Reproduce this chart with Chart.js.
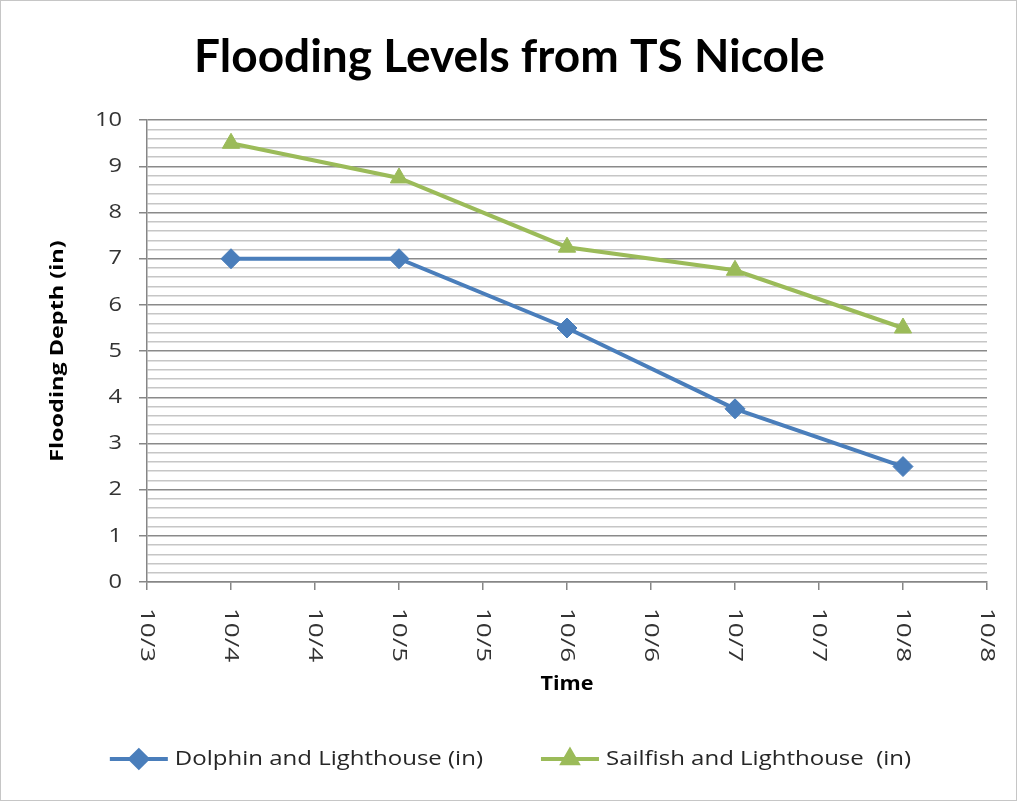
<!DOCTYPE html>
<html>
<head>
<meta charset="utf-8">
<title>Flooding Levels from TS Nicole</title>
<script src="https://cdn.jsdelivr.net/npm/chart.js@4.4.1/dist/chart.umd.min.js"></script>
<style>
  html, body { margin: 0; padding: 0; background: #fff; }
  #wrap { width: 1017px; height: 801px; position: relative; }
</style>
</head>
<body>
<div id="wrap"><canvas id="floodChart"></canvas></div>
<script>
// days in October (x), depths in inches (y)
const days = [4, 5, 6, 7, 8];
const dolphinDepth = [7, 7, 5.5, 3.75, 2.5];
const sailfishDepth = [9.5, 8.75, 7.25, 6.75, 5.5];
const seriesNames = ['Dolphin and Lighthouse (in)', 'Sailfish and Lighthouse  (in)'];
const xTickLabels = ['10/3', '10/4', '10/4', '10/5', '10/5', '10/6', '10/6', '10/7', '10/7', '10/8', '10/8'];
const yTickLabels = ['0', '1', '2', '3', '4', '5', '6', '7', '8', '9', '10'];
const xAxisTitle = 'Time';
const yAxisTitle = 'Flooding Depth (in)';

const TITLE_FONT = 'Lato, "DejaVu Sans", sans-serif';
const FONT = '"Open Sans", "DejaVu Sans", sans-serif';
const X_MIN = 3.5, X_MAX = 8.5, X_STEP = 0.5;
const TICK_LEN = 8;
const TEXT_COLOR = '#333333';

const isMajor = v => Math.abs(v - Math.round(v)) < 1e-6;

function toPoints(ys) {
  return days.map((d, i) => ({ x: d, y: ys[i] }));
}

// text widened along its baseline (the Calibri-ish look), optionally rotated
function wideText(ctx, text, x, y, font, stretch, align, angle) {
  ctx.save();
  ctx.translate(x, y);
  ctx.rotate(angle || 0);
  ctx.scale(stretch, 1);
  ctx.font = font;
  ctx.textAlign = align;
  ctx.textBaseline = 'middle';
  ctx.fillText(text, 0, 0);
  ctx.restore();
}

// axis labels, axis titles, legend with line samples, outer frame
const excelLook = {
  id: 'excelLook',
  beforeDraw(chart) {
    const ctx = chart.ctx;
    ctx.save();
    ctx.fillStyle = '#fff';
    ctx.fillRect(0, 0, chart.width, chart.height);
    ctx.restore();
  },
  afterDraw(chart) {
    const ctx = chart.ctx;
    const xs = chart.scales.x;
    const ys = chart.scales.y;
    const area = chart.chartArea;

    ctx.save();
    ctx.fillStyle = TEXT_COLOR;

    // y tick labels
    ys.ticks.forEach(t => {
      if (!isMajor(t.value)) return;
      wideText(ctx, yTickLabels[Math.round(t.value)], ys.right - TICK_LEN - 17,
        ys.getPixelForValue(t.value), '20px ' + FONT, 1.18, 'right');
    });

    // x tick labels, turned clockwise
    xs.ticks.forEach(t => {
      wideText(ctx, t.label, xs.getPixelForValue(t.value), xs.top + TICK_LEN + 18,
        '20px ' + FONT, 1.3, 'left', Math.PI / 2);
    });

    // axis titles
    ctx.fillStyle = '#000';
    wideText(ctx, xAxisTitle, (area.left + area.right) / 2, 684, 'bold 20px ' + FONT, 1.08, 'center');
    wideText(ctx, yAxisTitle, 58, (area.top + area.bottom) / 2, 'bold 18px ' + FONT, 1.3, 'center', -Math.PI / 2);
    ctx.restore();

    // legend
    const lineLen = 58, textGap = 7, itemGap = 58, ly = 759;
    const legendFont = '20px ' + FONT, legendStretch = 1.2;
    ctx.save();
    ctx.font = legendFont;
    const items = chart.data.datasets.map(ds => ({ ds, w: ctx.measureText(ds.label).width * legendStretch }));
    const total = items.reduce((s, it) => s + lineLen + textGap + it.w, 0) + itemGap * (items.length - 1);
    let x = (chart.width - total) / 2 + 2;
    items.forEach(({ ds, w }) => {
      ctx.strokeStyle = ds.borderColor;
      ctx.lineWidth = 4;
      ctx.beginPath();
      ctx.moveTo(x, ly);
      ctx.lineTo(x + lineLen, ly);
      ctx.stroke();
      ctx.fillStyle = ds.pointBackgroundColor;
      ctx.strokeStyle = ds.pointBorderColor;
      Chart.helpers.drawPoint(ctx, {
        pointStyle: ds.pointStyle, radius: ds.pointRadius * 0.85, rotation: 0, borderWidth: 1
      }, x + lineLen / 2, ly);
      ctx.fillStyle = '#262626';
      wideText(ctx, ds.label, x + lineLen + textGap, ly, legendFont, legendStretch, 'left');
      x += lineLen + textGap + w + itemGap;
    });
    ctx.restore();

    ctx.save();
    ctx.strokeStyle = '#c6c6c6';
    ctx.lineWidth = 1;
    ctx.strokeRect(0.5, 0.5, chart.width - 1, chart.height - 1);
    ctx.restore();
  }
};

new Chart(document.getElementById('floodChart'), {
  type: 'line',
  data: {
    datasets: [
      {
        label: seriesNames[0],
        data: toPoints(dolphinDepth),
        borderColor: '#4a7ebb',
        backgroundColor: '#4a7ebb',
        pointBackgroundColor: '#4a7ebb',
        pointBorderColor: '#4a7ebb',
        borderWidth: 4,
        pointStyle: 'rectRot',
        pointRadius: 10,
        pointBorderWidth: 1,
        tension: 0
      },
      {
        label: seriesNames[1],
        data: toPoints(sailfishDepth),
        borderColor: '#9bbb59',
        backgroundColor: '#9bbb59',
        pointBackgroundColor: '#9bbb59',
        pointBorderColor: '#9bbb59',
        borderWidth: 4,
        pointStyle: 'triangle',
        pointRadius: 10,
        pointBorderWidth: 1,
        tension: 0
      }
    ]
  },
  options: {
    responsive: true,
    maintainAspectRatio: false,
    animation: false,
    layout: { padding: { top: 0, left: 32, right: 30, bottom: 0 } },
    plugins: {
      legend: { display: false },
      tooltip: { enabled: false },
      title: {
        display: true,
        text: 'Flooding Levels from TS Nicole',
        color: '#000',
        font: { family: TITLE_FONT, size: 46, weight: 'bold' },
        padding: { top: 30, bottom: 35 }
      }
    },
    scales: {
      x: {
        type: 'linear',
        min: X_MIN,
        max: X_MAX,
        afterFit: s => { s.height = 219; },
        border: { color: '#868686', width: 1.5 },
        grid: { drawOnChartArea: false, tickLength: TICK_LEN, tickColor: '#868686', lineWidth: 1.5 },
        ticks: {
          display: false,
          stepSize: X_STEP,
          autoSkip: false,
          callback: v => xTickLabels[Math.round((v - X_MIN) / X_STEP)]
        }
      },
      y: {
        min: 0,
        max: 10,
        afterFit: s => { s.width = 115; },
        border: { color: '#868686', width: 1.5 },
        grid: {
          tickLength: TICK_LEN,
          lineWidth: 1.5,
          color: c => isMajor(c.tick.value) ? '#8a8a8a' : '#c6c6c6',
          tickColor: c => isMajor(c.tick.value) ? '#868686' : 'rgba(0,0,0,0)'
        },
        ticks: {
          display: false,
          stepSize: 0.2,
          autoSkip: false,
          maxTicksLimit: 100
        }
      }
    }
  },
  plugins: [excelLook]
});
</script>
</body>
</html>
